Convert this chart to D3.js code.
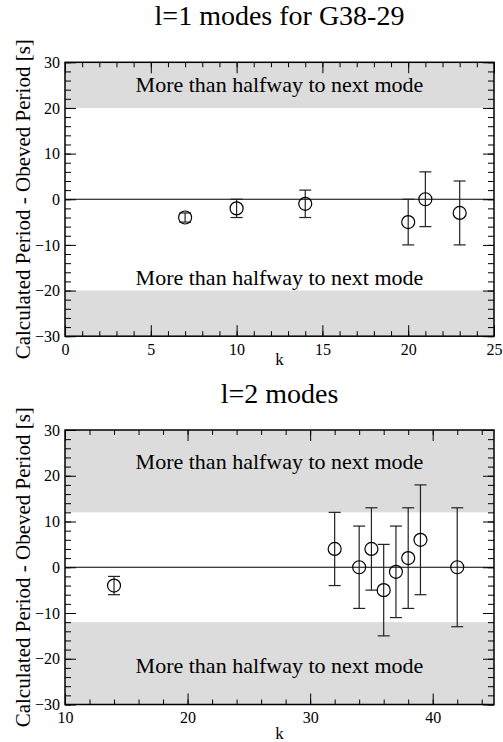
<!DOCTYPE html>
<html>
<head>
<meta charset="utf-8">
<script src="https://cdn.jsdelivr.net/npm/d3@7"></script>
<style>
  body { margin: 0; background: #fff; }
  svg { display: block; }
</style>
</head>
<body>
<svg id="chart" width="503" height="742"></svg>
<script>
// l=1 modes for G38-29
var k1 = [7, 10, 14, 20, 21, 23];
var diff1 = [-4, -2, -1, -5, 0, -3];
var err1 = [1, 2, 3, 5, 6, 7];
var halfway1 = 20;
var xTicks1 = [0, 5, 10, 15, 20, 25];

// l=2 modes
var k2 = [14, 32, 34, 35, 36, 37, 38, 39, 42];
var diff2 = [-4, 4, 0, 4, -5, -1, 2, 6, 0];
var err2 = [2, 8, 9, 9, 10, 10, 11, 12, 13];
var halfway2 = 12;
var xTicks2 = [10, 20, 30, 40];

var yTicks = [-30, -20, -10, 0, 10, 20, 30];
var bandLabel = "More than halfway to next mode";
var yLabel = "Calculated Period - Obeved Period [s]";

var FONT = "'Liberation Serif', 'Times New Roman', 'DejaVu Serif', serif";

var svg = d3.select("#chart");

function label(sel, size) {
    return sel.attr("font-family", FONT).style("font-family", FONT)
        .attr("font-size", size).style("font-size", size + "px").attr("fill", "#000");
}

function drawPanel(p) {
    var left = 65, right = 494;
    var x = d3.scaleLinear().domain(p.xDomain).range([left, right]);
    var y = d3.scaleLinear().domain([-30, 30]).range([p.bottom, p.top]);
    var g = svg.append("g");

    // grey "too far" bands
    g.append("rect")
        .attr("x", left).attr("width", right - left)
        .attr("y", y(30)).attr("height", y(p.halfway) - y(30))
        .attr("fill", "#dcdcdc");
    g.append("rect")
        .attr("x", left).attr("width", right - left)
        .attr("y", y(-p.halfway)).attr("height", y(-30) - y(-p.halfway))
        .attr("fill", "#dcdcdc");

    var cx = (left + right) / 2;
    label(g.append("text").attr("x", cx).attr("y", p.bandTextTop)
        .attr("text-anchor", "middle"), 22).text(bandLabel);
    label(g.append("text").attr("x", cx).attr("y", p.bandTextBottom)
        .attr("text-anchor", "middle"), 22).text(bandLabel);

    // zero line
    g.append("line")
        .attr("x1", left).attr("x2", right)
        .attr("y1", y(0)).attr("y2", y(0))
        .attr("stroke", "#000").attr("stroke-width", 1.2);

    // minor ticks on all four sides
    var xMinor = d3.range(p.xDomain[0], p.xDomain[1] + 0.001, p.xMinorStep);
    var yMinor = d3.range(-30, 30.001, 2);
    var ax = [
        [d3.axisBottom(x).tickValues(xMinor), "translate(0," + p.bottom + ")", 5],
        [d3.axisTop(x).tickValues(xMinor), "translate(0," + p.top + ")", 5],
        [d3.axisLeft(y).tickValues(yMinor), "translate(" + left + ",0)", 6],
        [d3.axisRight(y).tickValues(yMinor), "translate(" + right + ",0)", 6],
        [d3.axisTop(x).tickValues(p.xTicks), "translate(0," + p.top + ")", 11],
        [d3.axisRight(y).tickValues(yTicks), "translate(" + right + ",0)", 11]
    ];
    ax.forEach(function (a) {
        var s = g.append("g").attr("transform", a[1])
            .call(a[0].tickSize(-a[2]).tickFormat(""));
        s.select(".domain").remove();
    });

    // major ticks with labels
    var xa = g.append("g").attr("transform", "translate(0," + p.bottom + ")")
        .call(d3.axisBottom(x).tickValues(p.xTicks).tickSize(-11).tickPadding(7));
    var ya = g.append("g").attr("transform", "translate(" + left + ",0)")
        .call(d3.axisLeft(y).tickValues(yTicks).tickSize(-11).tickPadding(5));
    [xa, ya].forEach(function (s) {
        s.select(".domain").remove();
        s.attr("font-family", FONT);
        label(s.selectAll("text"), 16);
    });
    g.selectAll(".tick line").attr("stroke", "#000");

    // frame
    g.append("rect")
        .attr("x", left).attr("y", p.top)
        .attr("width", right - left).attr("height", p.bottom - p.top)
        .attr("fill", "none").attr("stroke", "#000").attr("stroke-width", 1.5);

    // error bars + open circles
    var pts = p.k.map(function (k, i) { return { k: k, v: p.diff[i], e: p.err[i] }; });
    var pt = g.selectAll(".pt").data(pts).enter().append("g").attr("class", "pt");
    pt.append("line")
        .attr("x1", function (d) { return x(d.k); })
        .attr("x2", function (d) { return x(d.k); })
        .attr("y1", function (d) { return y(d.v - d.e); })
        .attr("y2", function (d) { return y(d.v + d.e); })
        .attr("stroke", "#222").attr("stroke-width", 1.2);
    [-1, 1].forEach(function (sgn) {
        pt.append("line")
            .attr("x1", function (d) { return x(d.k) - 6; })
            .attr("x2", function (d) { return x(d.k) + 6; })
            .attr("y1", function (d) { return y(d.v + sgn * d.e); })
            .attr("y2", function (d) { return y(d.v + sgn * d.e); })
            .attr("stroke", "#222").attr("stroke-width", 1.2);
    });
    pt.append("circle")
        .attr("cx", function (d) { return x(d.k); })
        .attr("cy", function (d) { return y(d.v); })
        .attr("r", 6.5)
        .attr("fill", "none").attr("stroke", "#000").attr("stroke-width", 1.2);

    // titles and axis labels
    label(svg.append("text").attr("x", cx).attr("y", p.titleY)
        .attr("text-anchor", "middle"), 28).text(p.title);
    label(svg.append("text").attr("x", cx).attr("y", p.kY)
        .attr("text-anchor", "middle"), 17).text("k");
    label(svg.append("text")
        .attr("transform", "translate(30," + ((p.top + p.bottom) / 2) + ") rotate(-90)")
        .attr("text-anchor", "middle"), 21).text(yLabel);
}

drawPanel({
    title: "l=1 modes for G38-29", titleY: 25,
    top: 62.3, bottom: 336.2, kY: 365,
    xDomain: [0, 25], xTicks: xTicks1, xMinorStep: 1,
    halfway: halfway1, bandTextTop: 92, bandTextBottom: 285,
    k: k1, diff: diff1, err: err1
});

drawPanel({
    title: "l=2 modes", titleY: 403,
    top: 430, bottom: 704.5, kY: 739,
    xDomain: [10, 45], xTicks: xTicks2, xMinorStep: 2,
    halfway: halfway2, bandTextTop: 469, bandTextBottom: 673,
    k: k2, diff: diff2, err: err2
});
</script>
</body>
</html>
